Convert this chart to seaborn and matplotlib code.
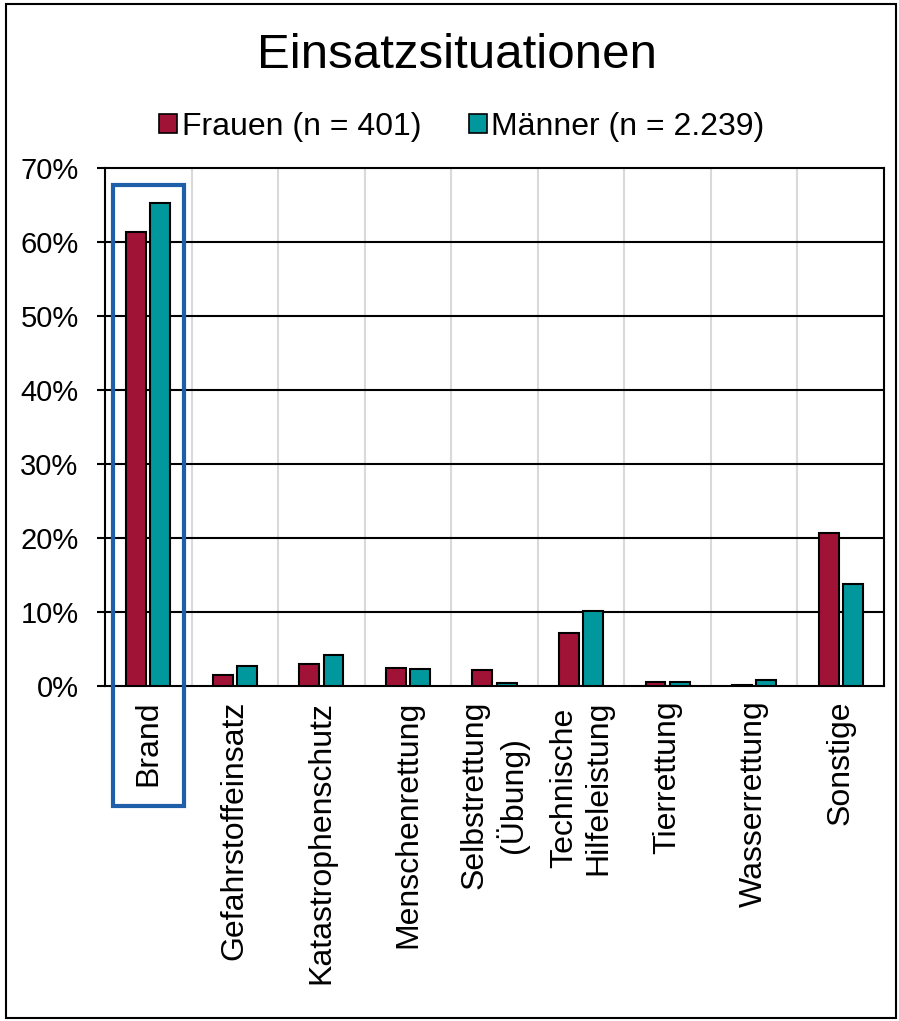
import numpy as np
import pandas as pd
import matplotlib.pyplot as plt
import seaborn as sns
from matplotlib.patches import Rectangle
from matplotlib.ticker import PercentFormatter

# Data (share of respondents)
categories = ['Brand', 'Gefahrstoffeinsatz', 'Katastrophenschutz', 'Menschenrettung',
              'Selbstrettung\n(Übung)', 'Technische\nHilfeleistung', 'Tierrettung',
              'Wasserrettung', 'Sonstige']
frauen = [61.3, 1.5, 3.0, 2.5, 2.1, 7.2, 0.5, 0.2, 20.7]
maenner = [65.3, 2.7, 4.2, 2.3, 0.45, 10.1, 0.5, 0.85, 13.8]
series_names = ['Frauen (n = 401)', 'Männer (n = 2.239)']
colors = ['#A11237', '#00979D']

df = pd.DataFrame({
    'Kategorie': categories * 2,
    'Gruppe': [series_names[0]] * len(categories) + [series_names[1]] * len(categories),
    'Anteil': frauen + maenner,
})

sns.set_style('white')
plt.rcParams['font.family'] = ['Liberation Sans', 'DejaVu Sans']
plt.rcParams['text.color'] = 'black'
plt.rcParams['xtick.color'] = 'black'
plt.rcParams['ytick.color'] = 'black'

fig = plt.figure(figsize=(8.99, 10.21), dpi=100)
ax = fig.add_axes([105 / 899, 1 - 686 / 1021, (884 - 105) / 899, (686 - 168) / 1021])

sns.barplot(data=df, x='Kategorie', y='Anteil', hue='Gruppe', order=categories,
            hue_order=series_names, palette=colors, width=0.56, gap=0.18,
            edgecolor='black', linewidth=1.5, saturation=1, ax=ax, legend=False, zorder=3)

ax.set_ylim(0, 70)
ax.set_xlim(-0.5, len(categories) - 0.5)
ax.set_yticks(np.arange(0, 71, 10))
ax.yaxis.set_major_formatter(PercentFormatter(decimals=0))
ax.set_xlabel('')
ax.set_ylabel('')

# gridlines: black horizontal, light grey vertical between categories
for y in range(10, 70, 10):
    ax.axhline(y, color='black', lw=1.5, zorder=1)
for x in np.arange(0.5, len(categories) - 0.5, 1):
    ax.axvline(x, color='#d9d9d9', lw=1.5, zorder=0)

for s in ax.spines.values():
    s.set_color('black')
    s.set_linewidth(1.5)

ax.tick_params(axis='y', which='both', left=True, length=6, width=1.5, color='black',
               labelcolor='black', labelsize=21, pad=13)
ax.tick_params(axis='x', bottom=False, labelcolor='black', labelsize=23, pad=7)
ax.set_xticks(range(len(categories)))
ax.set_xticklabels(categories, rotation=90, ha='center', va='top', multialignment='center')

# blue highlight box around "Brand"
ax.add_patch(Rectangle((-0.41, -16.2), 0.82, 67.7 + 16.2, fill=False, edgecolor='#1F5EA8',
                       lw=3, clip_on=False, zorder=5))

# title and legend
fig.text(457 / 899, 1 - 55 / 1021, 'Einsatzsituationen', ha='center', va='center',
         fontsize=35.5, color='black')
handles = [Rectangle((0, 0), 1, 1, facecolor=c, edgecolor='black', lw=1.2) for c in colors]
fig.legend(handles, series_names, loc='center', bbox_to_anchor=(462 / 899, 1 - 127 / 1021),
           ncol=2, frameon=False, fontsize=23, handlelength=0.55, handleheight=0.55,
           handletextpad=0.15, columnspacing=1.5, labelcolor='black')

# outer figure border
fig.patches.append(Rectangle((6 / 899, 3 / 1021), 890 / 899, 1014 / 1021, fill=False,
                             edgecolor='black', lw=1.5, transform=fig.transFigure, figure=fig))

fig.savefig('out.png', dpi=100)
